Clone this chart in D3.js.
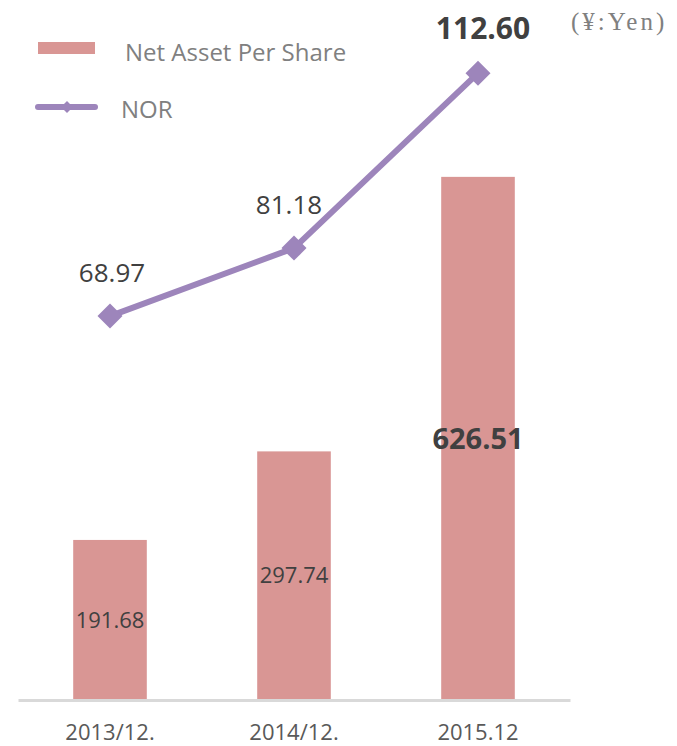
<!DOCTYPE html>
<html>
<head>
<meta charset="utf-8">
<script src="https://cdn.jsdelivr.net/npm/d3@7"></script>
<style>
  body { margin: 0; background: #fff; }
  svg { display: block; }
</style>
</head>
<body>
<div id="chart"></div>
<script>
// data
var categories = ["2013/12.", "2014/12.", "2015.12"];
var netAsset = [191.68, 297.74, 626.51];
var nor = [68.97, 81.18, 112.60];
var seriesNames = ["Net Asset Per Share", "NOR"];
var unitLabel = "(¥:Yen)";

var width = 677, height = 746;
var barColor = "#d99694", lineColor = "#9d85bb";

var svg = d3.select("#chart")
  .append("svg")
  .attr("width", width)
  .attr("height", height);

// scales
var x = d3.scaleBand()
  .domain(categories)
  .range([18, 570])
  .paddingInner(0.6)
  .paddingOuter(0.3);

var yBar = d3.scaleLinear()
  .domain([0, 800])
  .range([700, 32]);

var yLine = d3.scaleLinear()
  .domain([0, 120])
  .range([700, 32]);

// bars
svg.append("g")
  .selectAll("rect")
  .data(netAsset)
  .enter()
  .append("rect")
    .attr("x", function(d, i) { return x(categories[i]); })
    .attr("y", function(d) { return yBar(d); })
    .attr("width", x.bandwidth())
    .attr("height", function(d) { return yBar(0) - yBar(d); })
    .style("fill", barColor);

// x axis
var xAxis = svg.append("g")
  .attr("transform", "translate(0," + yBar(0) + ")")
  .call(d3.axisBottom(x).tickSize(0).tickPadding(24));
xAxis.select(".domain")
  .attr("stroke", "#d9d9d9")
  .attr("stroke-width", 3);
xAxis.selectAll("text")
  .style("font-family", "Open Sans")
  .style("font-size", "22px")
  .style("fill", "#595959");

// bar labels
svg.append("g")
  .selectAll("text")
  .data(netAsset)
  .enter()
  .append("text")
    .attr("x", function(d, i) { return x(categories[i]) + x.bandwidth() / 2; })
    .attr("y", function(d) { return (yBar(d) + yBar(0)) / 2; })
    .attr("dy", "0.35em")
    .attr("text-anchor", "middle")
    .style("font-family", "Open Sans")
    .style("font-size", function(d, i) { return i == 2 ? "29px" : "22px"; })
    .style("font-weight", function(d, i) { return i == 2 ? "bold" : "normal"; })
    .style("fill", "#404040")
    .text(function(d) { return d.toFixed(2); });

// NOR line
var line = d3.line()
  .x(function(d, i) { return x(categories[i]) + x.bandwidth() / 2; })
  .y(function(d) { return yLine(d); });

svg.append("path")
  .datum(nor)
  .attr("d", line)
  .style("fill", "none")
  .style("stroke", lineColor)
  .style("stroke-width", 6)
  .style("stroke-linejoin", "round");

svg.append("g")
  .selectAll("path")
  .data(nor)
  .enter()
  .append("path")
    .attr("d", d3.symbol().type(d3.symbolDiamond2).size(400))
    .attr("transform", function(d, i) {
      return "translate(" + (x(categories[i]) + x.bandwidth() / 2) + "," + yLine(d) + ")";
    })
    .style("fill", lineColor);

svg.append("g")
  .selectAll("text")
  .data(nor)
  .enter()
  .append("text")
    .attr("x", function(d, i) { return x(categories[i]) + x.bandwidth() / 2 + [2, -5, 5][i]; })
    .attr("y", function(d) { return yLine(d) - 34; })
    .attr("text-anchor", "middle")
    .style("font-family", "Open Sans")
    .style("font-size", function(d, i) { return i == 2 ? "30px" : "26px"; })
    .style("font-weight", function(d, i) { return i == 2 ? "bold" : "normal"; })
    .style("fill", "#404040")
    .text(function(d) { return d.toFixed(2); });

// legend
var legend = svg.append("g");
legend.append("rect")
  .attr("x", 38).attr("y", 42)
  .attr("width", 57).attr("height", 12)
  .style("fill", barColor);
legend.append("text")
  .attr("x", 125).attr("y", 61)
  .style("font-family", "Open Sans")
  .style("font-size", "24px")
  .style("fill", "#808080")
  .text(seriesNames[0]);

legend.append("line")
  .attr("x1", 38).attr("x2", 95)
  .attr("y1", 107).attr("y2", 107)
  .style("stroke", lineColor)
  .style("stroke-width", 6)
  .style("stroke-linecap", "round");
legend.append("path")
  .attr("d", d3.symbol().type(d3.symbolDiamond2).size(90))
  .attr("transform", "translate(67,107)")
  .style("fill", lineColor);
legend.append("text")
  .attr("x", 121).attr("y", 118)
  .style("font-family", "Open Sans")
  .style("font-size", "24px")
  .style("fill", "#808080")
  .text(seriesNames[1]);

// unit
svg.append("text")
  .attr("x", 571).attr("y", 30)
  .style("font-family", "Liberation Serif")
  .style("font-size", "25px")
  .style("letter-spacing", "3px")
  .style("fill", "#808080")
  .text(unitLabel);
</script>
</body>
</html>
